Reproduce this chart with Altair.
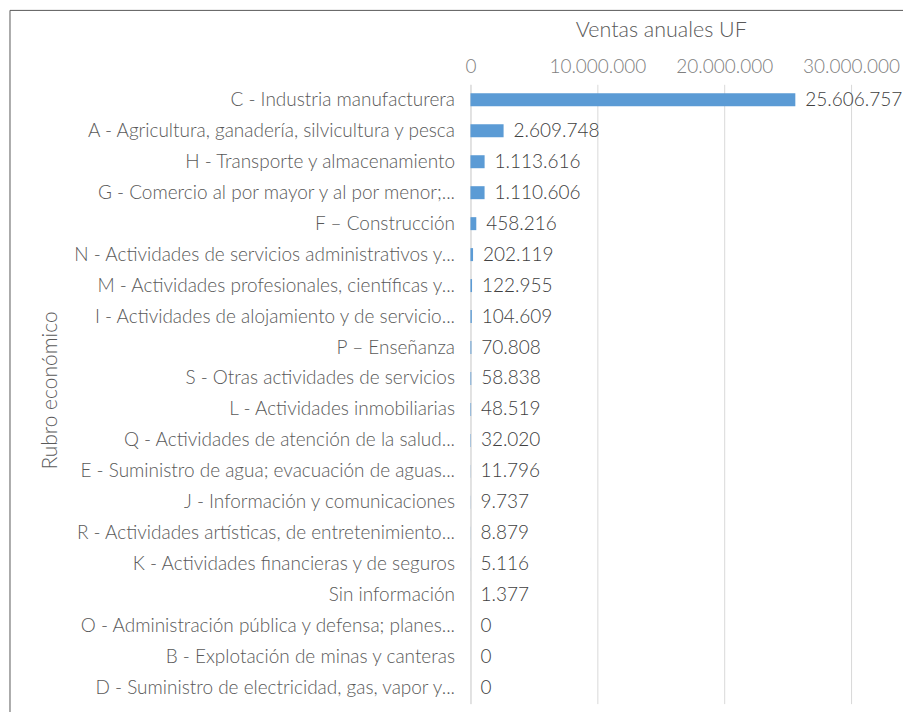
import altair as alt
import pandas as pd

categories = [
    "C - Industria manufacturera",
    "A - Agricultura, ganadería, silvicultura y pesca",
    "H - Transporte y almacenamiento",
    "G - Comercio al por mayor y al por menor;...",
    "F – Construcción",
    "N - Actividades de servicios administrativos y...",
    "M - Actividades profesionales, científicas y...",
    "I - Actividades de alojamiento y de servicio...",
    "P – Enseñanza",
    "S - Otras actividades de servicios",
    "L - Actividades inmobiliarias",
    "Q - Actividades de atención de la salud...",
    "E - Suministro de agua; evacuación de aguas...",
    "J - Información y comunicaciones",
    "R - Actividades artísticas, de entretenimiento...",
    "K - Actividades financieras y de seguros",
    "Sin información",
    "O - Administración pública y defensa; planes...",
    "B - Explotación de minas y canteras",
    "D - Suministro de electricidad, gas, vapor y...",
]
values = [25606757, 2609748, 1113616, 1110606, 458216, 202119, 122955, 104609,
          70808, 58838, 48519, 32020, 11796, 9737, 8879, 5116, 1377, 0, 0, 0]

df = pd.DataFrame({"rubro": categories, "ventas": values})
df["label"] = [f"{v:,}".replace(",", ".") for v in values]

FONT = "Lato"
GREY = "#595959"
LIGHT = "#7f7f7f"
FS = 19

x_enc = alt.X(
    "ventas:Q",
    scale=alt.Scale(domain=[0, 30000000], nice=False),
    axis=alt.Axis(
        orient="top",
        title="Ventas anuales UF",
        values=[0, 10000000, 20000000, 30000000],
        labelExpr="replace(format(datum.value, ','), regexp(',', 'g'), '.')",
        labelOverlap=False,
        labelFlush=False,
        ticks=False,
        domain=False,
        grid=True,
        gridColor="#d9d9d9",
        labelPadding=8,
        titlePadding=16,
        labelFontSize=FS,
        titleFontSize=21.5,
        labelColor=LIGHT,
        titleColor=GREY,
        labelFont=FONT,
        titleFont=FONT,
        labelFontWeight=300,
        titleFontWeight=300,
    ),
)
y_enc = alt.Y(
    "rubro:N",
    sort=None,
    axis=alt.Axis(
        title="Rubro económico",
        ticks=False,
        domain=True,
        domainColor="#d9d9d9",
        labelPadding=16,
        labelLimit=450,
        labelFontSize=FS,
        titleFontSize=21,
        labelColor=GREY,
        titleColor=GREY,
        labelFont=FONT,
        titleFont=FONT,
        labelFontWeight=300,
        titleFontWeight=300,
        titleX=-410,
        titleY=306,
        titleAngle=-90,
    ),
)

bars = alt.Chart(df).mark_bar(color="#5B9BD5", size=13).encode(x=x_enc, y=y_enc)
texts = alt.Chart(df).mark_text(
    align="left", baseline="middle", dx=10, fontSize=FS, font=FONT,
    fontWeight=300, color="#404040"
).encode(x="ventas:Q", y=alt.Y("rubro:N", sort=None), text="label:N")

frame = alt.Chart(pd.DataFrame({"a": [0]})).mark_rect(
    fill=None, stroke="#595959", strokeWidth=1
).encode(
    x=alt.value(-461), x2=alt.value(900), y=alt.value(-74), y2=alt.value(900)
)

chart = alt.layer(frame, bars, texts).properties(
    width=381,
    height=620,
    autosize=alt.AutoSizeParams(type="none"),
    padding={"left": 463, "top": 76, "right": 52, "bottom": 8},
).configure_view(stroke=None).configure_scale(bandPaddingInner=0.2)

chart.save("out.html", embed_options={"renderer": "svg", "actions": False})
